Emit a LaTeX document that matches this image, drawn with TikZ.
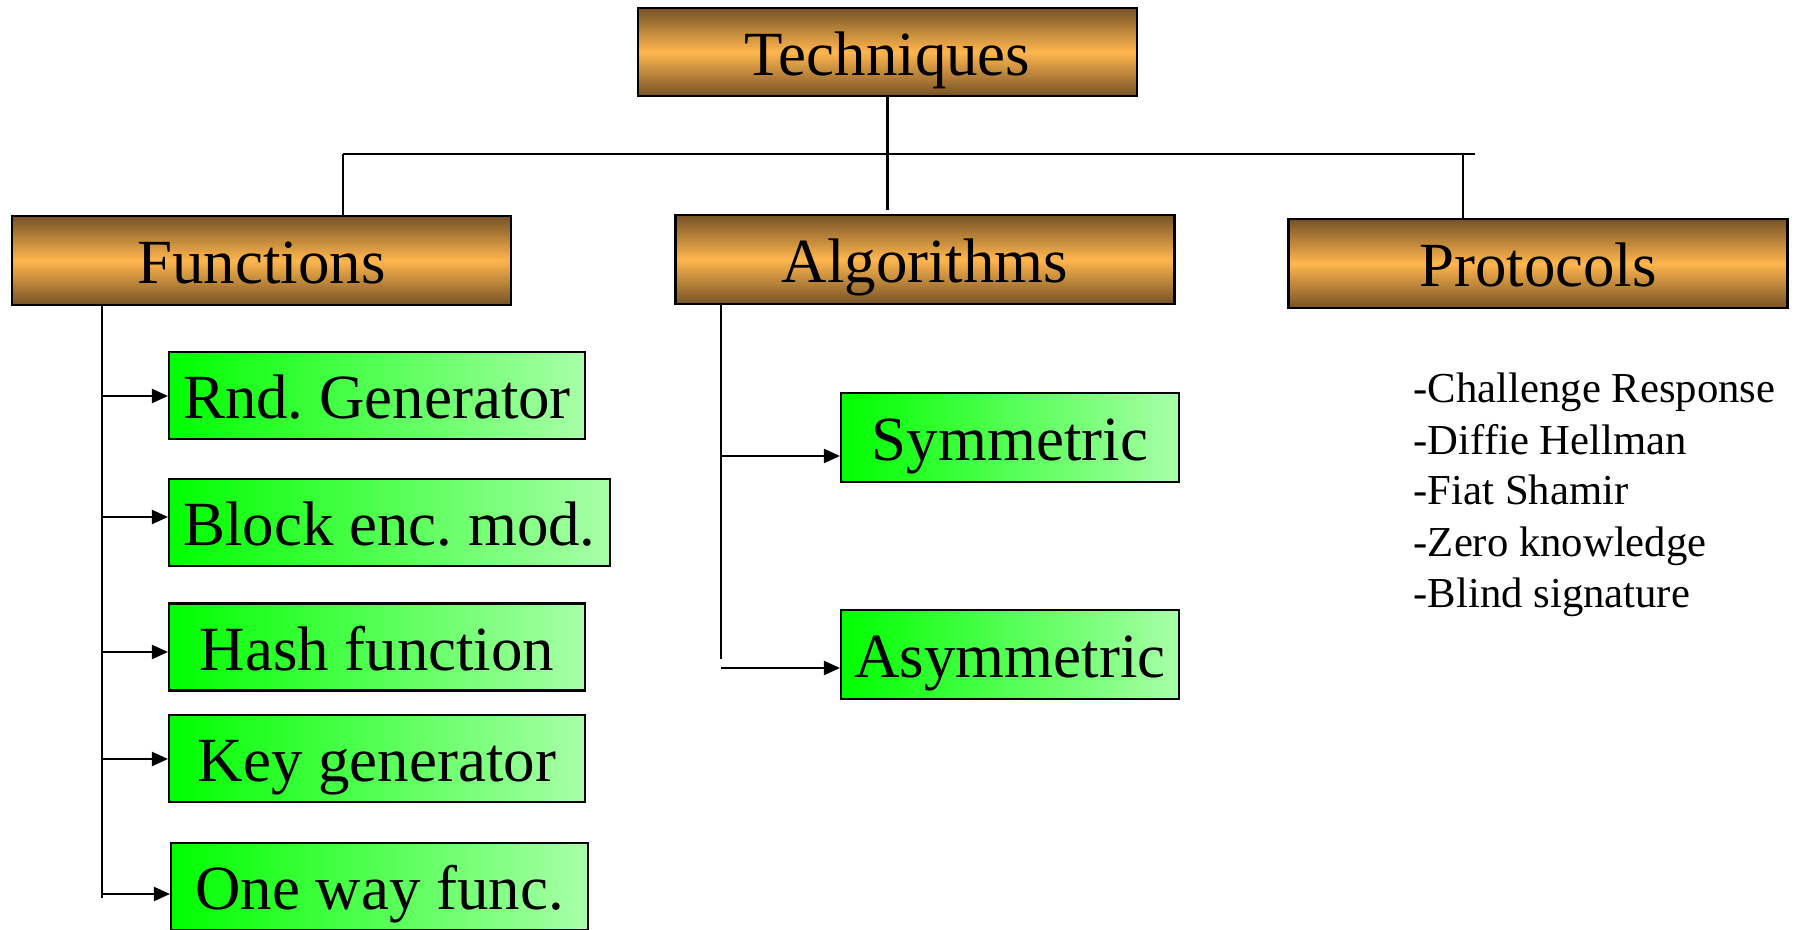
\documentclass[tikz,border=0pt]{standalone}
\usepackage{fontspec}
\setmainfont{Liberation Serif}
\frenchspacing
\usetikzlibrary{arrows.meta}
\definecolor{bronzedark}{RGB}{118,82,38}
\definecolor{bronzelight}{RGB}{255,182,78}
\definecolor{greenfull}{RGB}{0,255,0}
\definecolor{greenpale}{RGB}{168,255,168}
\tikzset{
  catbox/.style={draw=black, line width=0.6pt, top color=bronzedark, bottom color=bronzedark,
    middle color=bronzelight, minimum width=49.9mm, minimum height=8.9mm, inner sep=0pt,
    font=\fontsize{17.9}{20}\selectfont, text height=13.2pt, text depth=0pt},
  itembox/.style={draw=black, line width=0.6pt, left color=greenfull, right color=greenpale,
    minimum width=41.6mm, minimum height=8.7mm, inner sep=0pt,
    font=\fontsize{17.9}{20}\selectfont, text height=13.2pt, text depth=0pt},
  wire/.style={line width=0.6pt},
  feed/.style={line width=0.6pt, -{Triangle[length=1.6mm,width=1.4mm]}},
  listitem/.style={anchor=base west, inner sep=0pt, font=\fontsize{12.15}{14}\selectfont},
}
\begin{document}
\begin{tikzpicture}[x=0.1mm,y=-0.1mm]
\clip (0,0) rectangle (1800,930);
\fill[white] (0,0) rectangle (1800,930);

% category boxes
\node[catbox, minimum height=8.8mm] (tech) at (887.5,52) {Techniques};
\node[catbox] (func) at (261.5,260.5) {Functions};
\node[catbox] (algo) at (925,259.5) {Algorithms};
\node[catbox] (prot) at (1538,263.5) {Protocols};

% distribution bus below the root
\coordinate (busL) at (343,154);
\coordinate (busR) at (1475,154);
\coordinate (busP) at (1463,154);
\coordinate (algoTop) at (887.5,210);
\draw[wire] (busL) -- (busR);
\draw[wire] (tech.south) -- (algoTop);
\draw[wire] (busL) -- (busL |- func.north);
\draw[wire] (busP) -- (busP |- prot.north);

% function items
\node[itembox] (rnd) at (377,395.5) {Rnd. Generator};
\node[itembox, minimum width=44.1mm] (blk) at (389.5,522.5) {Block enc. mod.};
\node[itembox] (hash) at (377,647) {Hash function};
\node[itembox] (key) at (377,758.5) {Key generator};
\node[itembox, minimum width=41.7mm] (oneway) at (379.5,886.5) {One way func.};

\coordinate (ftrunk) at (102,898);
\draw[wire] (ftrunk |- func.south) -- (ftrunk);
\coordinate (f1) at (102,396);
\coordinate (f2) at (102,517);
\coordinate (f3) at (102,652);
\coordinate (f4) at (102,759);
\coordinate (f5) at (102,894);
\draw[feed] (f1) -- (f1 -| rnd.west);
\draw[feed] (f2) -- (f2 -| blk.west);
\draw[feed] (f3) -- (f3 -| hash.west);
\draw[feed] (f4) -- (f4 -| key.west);
\draw[feed] (f5) -- (f5 -| oneway.west);

% algorithm items
\node[itembox, minimum width=33.8mm, minimum height=8.9mm] (sym) at (1010,437.5) {Symmetric};
\node[itembox, minimum width=33.8mm, minimum height=8.9mm] (asym) at (1010,654.5) {Asymmetric};
\coordinate (atrunk) at (721,659);
\draw[wire] (atrunk |- algo.south) -- (atrunk);
\coordinate (a1) at (721,456);
\coordinate (a2) at (721,668);
\draw[feed] (a1) -- (a1 -| sym.west);
\draw[feed] (a2) -- (a2 -| asym.west);

% protocol list
\node[listitem] (p1) at (1413,403) {-Challenge Response};
\node[listitem] (p2) at (1413,455) {-Diffie Hellman};
\node[listitem] (p3) at (1413,505) {-Fiat Shamir};
\node[listitem] (p4) at (1413,557) {-Zero knowledge};
\node[listitem] (p5) at (1413,608) {-Blind signature};
\end{tikzpicture}
\end{document}
